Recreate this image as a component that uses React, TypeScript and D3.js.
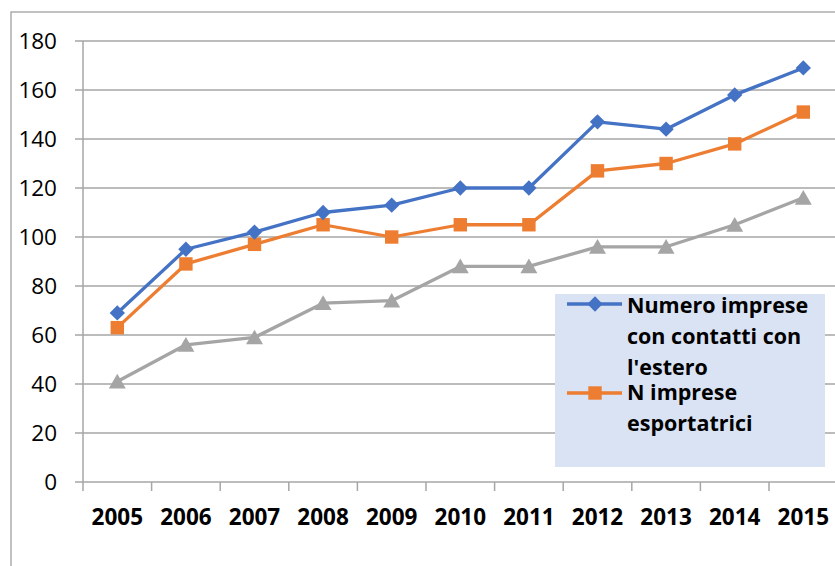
import React from "react";
import * as d3 from "d3";

const years = ["2005","2006","2007","2008","2009","2010","2011","2012","2013","2014","2015"];
const contatti = [69, 95, 102, 110, 113, 120, 120, 147, 144, 158, 169];
const esportatrici = [63, 89, 97, 105, 100, 105, 105, 127, 130, 138, 151];
const terza = [41, 56, 59, 73, 74, 88, 88, 96, 96, 105, 116];
const yTicks = [0, 20, 40, 60, 80, 100, 120, 140, 160, 180];
const legendBlue = ["Numero imprese", "con contatti con", "l'estero"];
const legendOrange = ["N imprese", "esportatrici"];

const W = 835, H = 566;
const left = 83, bottom = 482, top = 41;
const band = 68.6;

export default function App() {
  const x = d3.scaleBand<string>().domain(years).range([left, left + band * years.length]).paddingInner(0).paddingOuter(0);
  const y = d3.scaleLinear().domain([0, 180]).range([bottom, top]);
  const cx = (d: string) => (x(d) as number) + x.bandwidth() / 2;
  const line = d3.line<number>().x((_, i) => cx(years[i])).y((v) => y(v));
  const font = "'Open Sans', 'Noto Sans', sans-serif";
  const diamond = d3.symbol().type(d3.symbolDiamond2).size(150)();
  const square = d3.symbol().type(d3.symbolSquare).size(180)();
  const tri = d3.symbol().type(d3.symbolTriangle).size(125)();
  const blue = "#4472C4", orange = "#ED7D31", gray = "#A5A5A5";
  const grid = "#A6A6A6";
  return (
    <svg width={W} height={H} style={{ position: "absolute", left: 0, top: 0, background: "#fff" }}>
      <rect x={11} y={12} width={W + 20} height={H + 20} fill="#fff" stroke="#A0A0A0" strokeWidth={1.3} />
      {yTicks.map((t) => (
        <g key={t}>
          <line x1={75} x2={W} y1={y(t)} y2={y(t)} stroke={grid} strokeWidth={1.5} />
          <text x={57} y={y(t)} dy="0.36em" textAnchor="end" fontFamily={font} fontSize={22.5} fill="#000">{t}</text>
        </g>
      ))}
      <line x1={left} x2={left} y1={top} y2={bottom + 9} stroke={grid} strokeWidth={1.5} />
      {years.map((yr) => (
        <line key={"t" + yr} x1={(x(yr) as number) + band} x2={(x(yr) as number) + band} y1={bottom} y2={bottom + 9} stroke={grid} strokeWidth={1.5} />
      ))}
      {years.map((yr) => (
        <text key={yr} x={cx(yr)} y={525} textAnchor="middle" fontFamily={font} fontSize={22.5} fontWeight="bold" fill="#000">{yr}</text>
      ))}
      {[
        { data: terza, color: gray, path: tri, dy: 2 },
        { data: esportatrici, color: orange, path: square, dy: 0 },
        { data: contatti, color: blue, path: diamond, dy: 0 },
      ].map((s, k) => (
        <g key={k}>
          <path d={line(s.data) as string} fill="none" stroke={s.color} strokeWidth={3.3} strokeLinejoin="round" />
          {s.data.map((v, i) => (
            <path key={i} d={s.path as string} transform={`translate(${cx(years[i])},${y(v) + s.dy})`} fill={s.color} />
          ))}
        </g>
      ))}
      <rect x={555} y={294} width={270} height={173} fill="#DAE3F3" />
      <line x1={567} x2={622} y1={304} y2={304} stroke={blue} strokeWidth={3.3} />
      <path d={diamond as string} transform="translate(595,304)" fill={blue} />
      {legendBlue.map((t, i) => (
        <text key={t} x={627} y={313 + i * 31} fontFamily={font} fontSize={21.5} fontWeight="bold" fill="#000">{t}</text>
      ))}
      <line x1={567} x2={622} y1={393} y2={393} stroke={orange} strokeWidth={3.3} />
      <path d={square as string} transform="translate(595,393)" fill={orange} />
      {legendOrange.map((t, i) => (
        <text key={t} x={627} y={400 + i * 31} fontFamily={font} fontSize={21.5} fontWeight="bold" fill="#000">{t}</text>
      ))}
    </svg>
  );
}
